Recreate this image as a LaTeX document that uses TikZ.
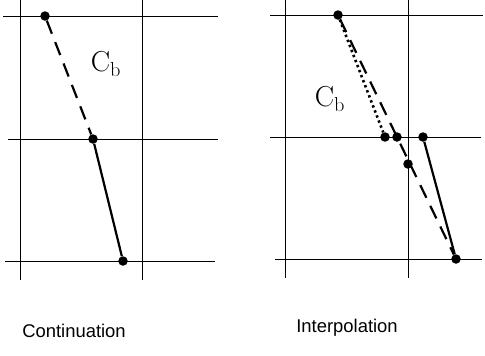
\documentclass[tikz,border=0pt]{standalone}
\usepackage{fontspec}
\setsansfont{Liberation Sans}
\usepackage{tikz}
\usetikzlibrary{positioning}

\begin{document}
\begin{tikzpicture}[
  x=1bp, y=-1bp,
  grid/.style={line width=0.9bp},
  pt/.style={circle, fill, inner sep=0pt, minimum size=9.5bp},
  known/.style={line width=2.2bp},
  guess/.style={line width=2.2bp, dash pattern=on 14bp off 9bp},
  spline/.style={line width=2.6bp, dash pattern=on 2.4bp off 3bp},
  curvename/.style={font=\fontsize{29}{30}\selectfont},
  caption/.style={font=\sffamily\fontsize{18.5}{20}\selectfont, anchor=base}
]
\useasboundingbox (0,0) rectangle (485,355);

% continuation
\draw[grid] (20,0) -- (20,280);
\draw[grid] (142,0) -- (142,280);
\draw[grid] (3,16) -- (218,16);
\draw[grid] (8,139) -- (218,139);
\draw[grid] (5,261) -- (215,261);

\node[pt] (c1) at (45,16) {};
\node[pt] (c2) at (93,139) {};
\node[pt] (c3) at (123,261) {};
\draw[guess] (c1) -- (c2);
\draw[known] (c2) -- (c3);
\node[curvename] (cbleft) at (106,64) {$\mathrm{C}_\mathrm{b}$};
\node[caption] (cont) at (74,337) {Continuation};

% interpolation
\draw[grid] (285,0) -- (285,278);
\draw[grid] (408,0) -- (408,278);
\draw[grid] (270,15) -- (483,15);
\draw[grid] (270,137) -- (481,137);
\draw[grid] (275,259) -- (482,259);

\node[pt] (i1) at (338,15) {};
\node[pt] (i2) at (385,137) {};
\node[pt] (i3) at (397,137) {};
\node[pt] (i4) at (423,137) {};
\node[pt] (i5) at (408,164) {};
\node[pt] (i6) at (456,259) {};
\draw[spline] (i1) -- (i2);
\draw[guess] (i1) -- (i6);
\draw[known] (i4) -- (i6);
\node[curvename] (cbright) at (330,99) {$\mathrm{C}_\mathrm{b}$};
\node[caption] (interp) at (347,332) {Interpolation};

\end{tikzpicture}
\end{document}
